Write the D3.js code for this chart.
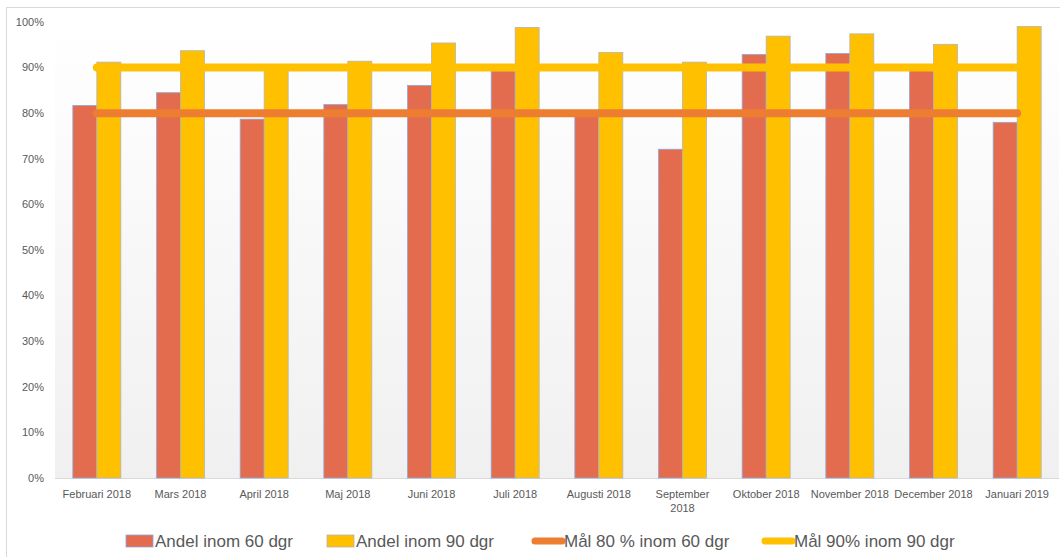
<!DOCTYPE html>
<html>
<head>
  <meta charset="utf-8">
  <script src="https://d3js.org/d3.v7.min.js"></script>
  <style>
    body { margin: 0; background: #fff; }
    text { font-family: "Liberation Sans", Arial, sans-serif; fill: #595959; }
  </style>
</head>
<body>
<script>
var months = ["Februari 2018", "Mars 2018", "April 2018", "Maj 2018", "Juni 2018", "Juli 2018",
  "Augusti 2018", "September\n2018", "Oktober 2018", "November 2018", "December 2018", "Januari 2019"];
var andel60 = [0.817, 0.845, 0.787, 0.819, 0.861, 0.893, 0.805, 0.721, 0.929, 0.931, 0.897, 0.780];
var andel90 = [0.912, 0.937, 0.897, 0.914, 0.954, 0.988, 0.933, 0.912, 0.969, 0.974, 0.951, 0.990];
var mal60 = [0.8, 0.8, 0.8, 0.8, 0.8, 0.8, 0.8, 0.8, 0.8, 0.8, 0.8, 0.8];
var mal90 = [0.9, 0.9, 0.9, 0.9, 0.9, 0.9, 0.9, 0.9, 0.9, 0.9, 0.9, 0.9];
var yTicks = [0, 0.1, 0.2, 0.3, 0.4, 0.5, 0.6, 0.7, 0.8, 0.9, 1.0];

var W = 1060, H = 557;
var plotL = 55, plotR = 1059, plotT = 22, plotB = 478;

var svg = d3.select("body").append("svg")
  .attr("width", W).attr("height", H);

// outer chart frame
svg.append("rect")
  .attr("x", 6.5).attr("y", 7.5).attr("width", W).attr("height", H)
  .attr("fill", "#fff").attr("stroke", "#d9d9d9");

var defs = svg.append("defs");
var grad = defs.append("linearGradient").attr("id", "bg")
  .attr("x1", 0).attr("y1", 0).attr("x2", 0).attr("y2", 1);
grad.append("stop").attr("offset", "0%").attr("stop-color", "#ffffff");
grad.append("stop").attr("offset", "100%").attr("stop-color", "#f0f0f0");

var x = d3.scaleBand().domain(d3.range(months.length)).range([plotL, plotR]);
var y = d3.scaleLinear().domain([0, 1]).range([plotB, plotT]);

svg.append("rect")
  .attr("x", plotL).attr("y", plotT)
  .attr("width", plotR - plotL).attr("height", plotB - plotT)
  .attr("fill", "url(#bg)");

// y axis labels
svg.selectAll(".ytick")
  .data(yTicks)
  .enter()
  .append("text")
  .attr("class", "ytick")
  .attr("x", 44)
  .attr("y", function(d) { return y(d); })
  .attr("dy", "0.35em")
  .attr("text-anchor", "end")
  .attr("font-size", 11)
  .text(function(d) { return d3.format(".0%")(d); });

// baseline
svg.append("line")
  .attr("x1", plotL).attr("x2", plotR)
  .attr("y1", plotB + 0.5).attr("y2", plotB + 0.5)
  .attr("stroke", "#d9d9d9");

var barW = 24;

svg.selectAll(".b60")
  .data(andel60)
  .enter()
  .append("rect")
  .attr("class", "b60")
  .attr("x", function(d, i) { return x(i) + x.bandwidth() / 2 - barW; })
  .attr("y", function(d) { return y(d); })
  .attr("width", barW)
  .attr("height", function(d) { return plotB - y(d); })
  .attr("fill", "#e36c4f")
  .attr("stroke", "#8ea9db")
  .attr("stroke-width", 0.8);

svg.selectAll(".b90")
  .data(andel90)
  .enter()
  .append("rect")
  .attr("class", "b90")
  .attr("x", function(d, i) { return x(i) + x.bandwidth() / 2; })
  .attr("y", function(d) { return y(d); })
  .attr("width", barW)
  .attr("height", function(d) { return plotB - y(d); })
  .attr("fill", "#ffc000")
  .attr("stroke", "#b4b4b4")
  .attr("stroke-width", 0.8);

var line = d3.line()
  .x(function(d, i) { return x(i) + x.bandwidth() / 2; })
  .y(function(d) { return y(d); });

svg.append("path")
  .datum(mal60)
  .attr("d", line)
  .attr("fill", "none")
  .attr("stroke", "#ed7d31")
  .attr("stroke-width", 8)
  .attr("stroke-linecap", "round");

svg.append("path")
  .datum(mal90)
  .attr("d", line)
  .attr("fill", "none")
  .attr("stroke", "#ffc000")
  .attr("stroke-width", 8)
  .attr("stroke-linecap", "round");

// x labels
var xl = svg.selectAll(".xlab")
  .data(months)
  .enter()
  .append("text")
  .attr("class", "xlab")
  .attr("text-anchor", "middle")
  .attr("font-size", 11)
  .attr("transform", function(d, i) { return "translate(" + (x(i) + x.bandwidth() / 2) + ",498)"; });
xl.selectAll("tspan")
  .data(function(d) { return d.split("\n"); })
  .enter()
  .append("tspan")
  .attr("x", 0)
  .attr("dy", function(d, j) { return j === 0 ? 0 : "1.3em"; })
  .text(function(d) { return d; });

// legend
var legend = [
  { label: "Andel inom 60 dgr", type: "rect", color: "#e36c4f", stroke: "#8ea9db", x: 126 },
  { label: "Andel inom 90 dgr", type: "rect", color: "#ffc000", stroke: "#b4b4b4", x: 327 },
  { label: "Mål 80 % inom 60 dgr", type: "line", color: "#ed7d31", x: 532 },
  { label: "Mål 90% inom 90 dgr", type: "line", color: "#ffc000", x: 762 }
];
var ly = 541;
var lg = svg.selectAll(".leg")
  .data(legend)
  .enter()
  .append("g")
  .attr("class", "leg")
  .attr("transform", function(d) { return "translate(" + d.x + "," + ly + ")"; });
lg.filter(function(d) { return d.type === "rect"; })
  .append("rect")
  .attr("x", 0).attr("y", -6).attr("width", 27).attr("height", 12)
  .attr("fill", function(d) { return d.color; })
  .attr("stroke", function(d) { return d.stroke; })
  .attr("stroke-width", 0.8);
lg.filter(function(d) { return d.type === "line"; })
  .append("line")
  .attr("x1", 3).attr("x2", 30).attr("y1", 0).attr("y2", 0)
  .attr("stroke", function(d) { return d.color; })
  .attr("stroke-width", 7)
  .attr("stroke-linecap", "round");
lg.append("text")
  .attr("x", function(d) { return d.type === "rect" ? 29 : 32; })
  .attr("y", 0)
  .attr("dy", "0.35em")
  .attr("font-size", 17)
  .text(function(d) { return d.label; });
</script>
</body>
</html>
